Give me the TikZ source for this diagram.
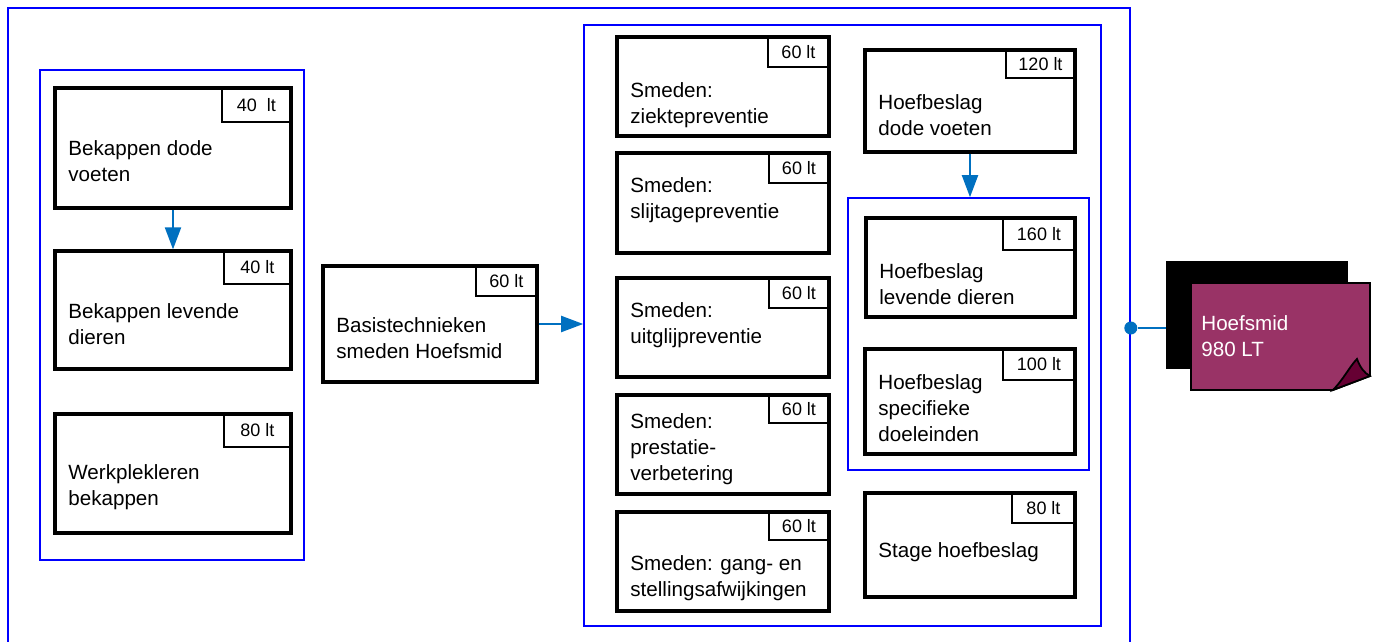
\documentclass[tikz,border=0pt]{standalone}
\usepackage{fontspec}
\newfontfamily\mainf{Liberation Sans}
\newfontfamily\labf{Liberation Sans}
\usetikzlibrary{fit,arrows.meta}
\definecolor{grpblue}{RGB}{0,0,255}
\definecolor{arrblue}{RGB}{0,112,192}
\definecolor{notecol}{RGB}{153,51,102}
\definecolor{foldcol}{RGB}{102,0,51}
\tikzset{
  grp/.style={draw=grpblue, line width=0.8pt, inner sep=0pt, fit={#1}},
  blk/.style={draw=black, line width=1.6pt, inner sep=0pt, fit={#1}},
  lab/.style={draw=black, line width=0.7pt, fill=white, inner sep=0pt, fit={#1}},
  labt/.style={inner sep=0pt, font=\labf\fontsize{9}{10}\selectfont},
  txt/.style={anchor=west, align=left, inner sep=0pt, font=\mainf\fontsize{10.3}{13}\selectfont},
  arr/.style={draw=arrblue, line width=1pt, -{Triangle[length=11pt,width=8pt]}},
  con/.style={draw=arrblue, line width=1pt},
}
\begin{document}
\begin{tikzpicture}[x=0.5pt,y=-0.5pt]
\useasboundingbox (0,0) rectangle (1378,642);
% group frames
\node[grp={(8,8)(1130,648)}] (outer) {};
\node[grp={(40,70)(304,560)}] (left) {};
\node[grp={(584,25)(1101,626)}] (mid) {};
\node[grp={(848,198)(1089,470)}] (hgrp) {};

% left column
\node[lab={(222,88)(291,122)}] (b1l) {};
\node[labt] (b1lt) at (b1l.center) {40\ \ lt};
\node[blk={(55,88)(291,208)}] (b1) {};
\node[txt] (b1x) at (68,161) {Bekappen dode\\voeten};

\node[lab={(224,251)(291,284)}] (b2l) {};
\node[labt] (b2lt) at (b2l.center) {40 lt};
\node[blk={(55,251)(291,369)}] (b2) {};
\node[txt] (b2x) at (68,324) {Bekappen levende\\dieren};

\node[lab={(224,414)(291,447)}] (b3l) {};
\node[labt] (b3lt) at (b3l.center) {80 lt};
\node[blk={(55,414)(291,533)}] (b3) {};
\node[txt] (b3x) at (68,487) {Werkplekleren\\bekappen};

\draw[arr] (b1.south) -- (b2.north);

% basis
\node[lab={(476,266)(537,296)}] (basl) {};
\node[labt] (baslt) at (basl.center) {60 lt};
\node[blk={(323,266)(537,382)}] (bas) {};
\node[txt] (basx) at (336,338) {Basistechnieken\\smeden Hoefsmid};

\draw[arr] (bas.east) -- (bas.east -| mid.west);

% smeden column
\node[lab={(768,37)(829,67)}] (s1l) {};
\node[labt] (s1lt) at (s1l.center) {60 lt};
\node[blk={(617,37)(829,136)}] (s1) {};
\node[txt] (s1x) at (630,105) {Smeden:\\ziektepreventie};

\node[lab={(769,153)(829,183)}] (s2l) {};
\node[labt] (s2lt) at (s2l.center) {60 lt};
\node[blk={(617,153)(829,253)}] (s2) {};
\node[txt] (s2x) at (630,200) {Smeden:\\slijtagepreventie};

\node[lab={(769,278)(829,308)}] (s3l) {};
\node[labt] (s3lt) at (s3l.center) {60 lt};
\node[blk={(617,278)(829,377)}] (s3) {};
\node[txt] (s3x) at (630,325) {Smeden:\\uitglijpreventie};

\node[lab={(769,395)(829,423)}] (s4l) {};
\node[labt] (s4lt) at (s4l.center) {60 lt};
\node[blk={(617,395)(829,494)}] (s4) {};
\node[txt] (s4x) at (630,449) {Smeden:\\prestatie-\\verbetering};

\node[lab={(769,512)(829,540)}] (s5l) {};
\node[labt] (s5lt) at (s5l.center) {60 lt};
\node[blk={(617,512)(829,611)}] (s5) {};
\node[txt] (s5x) at (630,578) {Smeden: gang- en\\stellingsafwijkingen};

% hoefbeslag column
\node[lab={(1006,50)(1075,78)}] (h1l) {};
\node[labt] (h1lt) at (h1l.center) {120 lt};
\node[blk={(865,50)(1075,152)}] (h1) {};
\node[txt] (h1x) at (878,115) {Hoefbeslag\\dode voeten};

\draw[arr] (h1.south) -- (h1.south |- hgrp.north);

\node[lab={(1003,218)(1075,250)}] (h2l) {};
\node[labt] (h2lt) at (h2l.center) {160 lt};
\node[blk={(866,218)(1075,317)}] (h2) {};
\node[txt] (h2x) at (879,284) {Hoefbeslag\\levende dieren};

\node[lab={(1003,349)(1075,380)}] (h3l) {};
\node[labt] (h3lt) at (h3l.center) {100 lt};
\node[blk={(865,349)(1075,454)}] (h3) {};
\node[txt] (h3x) at (878,408) {Hoefbeslag\\specifieke\\doeleinden};

\node[lab={(1012,493)(1075,523)}] (h4l) {};
\node[labt] (h4lt) at (h4l.center) {80 lt};
\node[blk={(865,493)(1075,597)}] (h4) {};
\node[txt] (h4x) at (878,552) {Stage hoefbeslag};

% result
\node[fill=black, inner sep=0pt, fit={(1166,261)(1348,369)}] (back) {};
\node[inner sep=0pt, fit={(1191,283)(1370,390)}] (note) {};
\filldraw[fill=notecol, draw=black, line width=0.9pt]
  (1191,283) -- (1370,283) -- (1370,376) -- (1333,390) -- (1191,390) -- cycle;
\filldraw[fill=foldcol, draw=black, line width=0.9pt]
  (1333,390) .. controls (1343,380) and (1350,366) .. (1357,359)
  .. controls (1360,367) and (1364,373) .. (1370,376) -- cycle;
\node[txt, text=white] (notex) at (1201,336) {Hoefsmid\\980 LT};

\node[circle, fill=arrblue, inner sep=0pt, minimum size=6.5pt] (dot) at (outer.east) {};
\draw[con] (dot) -- (dot -| back.west);
\end{tikzpicture}
\end{document}
